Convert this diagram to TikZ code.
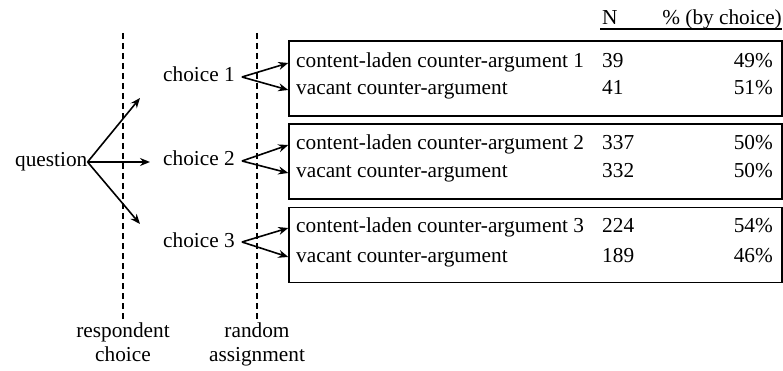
\documentclass[tikz,border=0pt]{standalone}
\usepackage{fontspec}
\setmainfont{Liberation Serif}
\usetikzlibrary{arrows.meta}
\begin{document}
\begin{tikzpicture}[x=1pt,y=-1pt,
  txt/.style={inner sep=0pt,font=\fontsize{21.3}{25}\selectfont},
  arr/.style={-{Stealth[length=10pt,width=8pt]},line width=1.6pt},
  divider/.style={dash pattern=on 6pt off 4pt,line width=1.4pt},
  grp/.style={draw,line width=1.4pt,minimum width=493pt,minimum height=75pt,inner sep=0pt}]
\useasboundingbox (0,0) rectangle (783,371);
% dividers
\coordinate (d1t) at (123,33); \coordinate (d1b) at (123,320);
\coordinate (d2t) at (257,33); \coordinate (d2b) at (257,320);
\draw[divider] (d1t) -- (d1b);
\draw[divider] (d2t) -- (d2b);
% question and choices
\node[txt,anchor=base west] (q) at (15,167) {question};
\node[txt,anchor=base west] (c1) at (163,82) {choice 1};
\node[txt,anchor=base west] (c2) at (163,166) {choice 2};
\node[txt,anchor=base west] (c3) at (163,247) {choice 3};
\coordinate (qs) at ([yshift=5pt]q.base east);
\coordinate (qa1) at (140,98);
\coordinate (qa2) at (150,162);
\coordinate (qa3) at (140,224);
\draw[arr] (qs) -- (qa1);
\draw[arr] (qs) -- (qa2);
\draw[arr] (qs) -- (qa3);
% boxes
\node[grp] (b1) at (535.5,78.5) {};
\node[grp] (b2) at (535.5,161.5) {};
\node[grp] (b3) at (535.5,245) {};
% header
\node[txt,anchor=base west] (hN) at (602,25) {N};
\node[txt,anchor=base east] (hP) at (782,25) {\% (by choice)};
\coordinate (ul1) at (600,29); \coordinate (ul2) at (782,29);
\draw[line width=1.2pt] (ul1) -- (ul2);
% rows
\node[txt,anchor=base west] (t11) at (296,68) {content-laden counter-argument 1};
\node[txt,anchor=base west] (n11) at (602,68) {39};
\node[txt,anchor=base east] (p11) at (773,68) {49\%};
\node[txt,anchor=base west] (t12) at (296,95) {vacant counter-argument};
\node[txt,anchor=base west] (n12) at (602,95) {41};
\node[txt,anchor=base east] (p12) at (773,95) {51\%};
\node[txt,anchor=base west] (t21) at (296,150) {content-laden counter-argument 2};
\node[txt,anchor=base west] (n21) at (602,150) {337};
\node[txt,anchor=base east] (p21) at (773,150) {50\%};
\node[txt,anchor=base west] (t22) at (296,178) {vacant counter-argument};
\node[txt,anchor=base west] (n22) at (602,178) {332};
\node[txt,anchor=base east] (p22) at (773,178) {50\%};
\node[txt,anchor=base west] (t31) at (296,233) {content-laden counter-argument 3};
\node[txt,anchor=base west] (n31) at (602,233) {224};
\node[txt,anchor=base east] (p31) at (773,233) {54\%};
\node[txt,anchor=base west] (t32) at (296,262) {vacant counter-argument};
\node[txt,anchor=base west] (n32) at (602,262) {189};
\node[txt,anchor=base east] (p32) at (773,262) {46\%};
% arrow anchors
\coordinate (cs1) at ([xshift=7pt,yshift=5pt]c1.base east);
\coordinate (cs2) at ([xshift=7pt,yshift=5pt]c2.base east);
\coordinate (cs3) at ([xshift=7pt,yshift=5pt]c3.base east);
\coordinate (a11) at ([yshift=5pt]t11.base west);
\coordinate (a12) at ([yshift=5pt]t12.base west);
\coordinate (a21) at ([yshift=5pt]t21.base west);
\coordinate (a22) at ([yshift=5pt]t22.base west);
\coordinate (a31) at ([yshift=5pt]t31.base west);
\coordinate (a32) at ([yshift=5pt]t32.base west);
% choice arrows
\draw[arr] (cs1) -- (b1.west |- a11);
\draw[arr] (cs1) -- (b1.west |- a12);
\draw[arr] (cs2) -- (b2.west |- a21);
\draw[arr] (cs2) -- (b2.west |- a22);
\draw[arr] (cs3) -- (b3.west |- a31);
\draw[arr] (cs3) -- (b3.west |- a32);
% labels
\node[txt,anchor=base] (l1a) at (123,337) {respondent};
\node[txt,anchor=base] (l1b) at (123,361) {choice};
\node[txt,anchor=base] (l2a) at (257,337) {random};
\node[txt,anchor=base] (l2b) at (257,361) {assignment};
\end{tikzpicture}
\end{document}
